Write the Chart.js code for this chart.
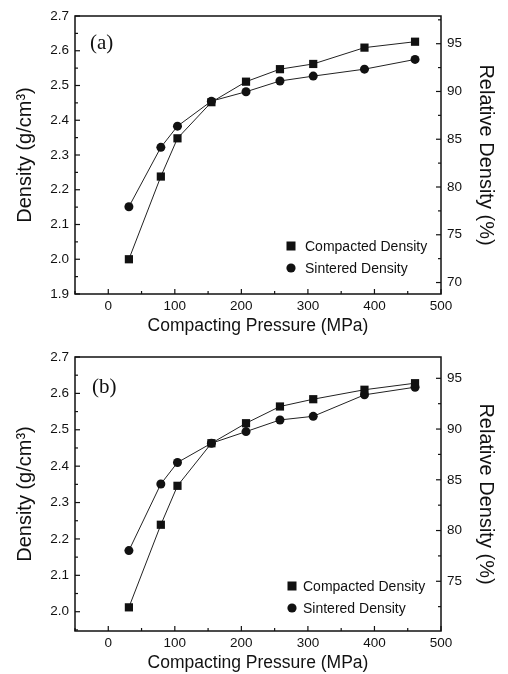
<!DOCTYPE html>
<html>
<head>
<meta charset="utf-8">
<script src="https://cdn.jsdelivr.net/npm/chart.js@4.4.1/dist/chart.umd.min.js"></script>
<style>
  html, body { margin: 0; padding: 0; background: #fff; }
  .panel { position: absolute; left: 0; width: 508px; height: 337px; }
</style>
</head>
<body>
<div class="panel" style="top:0"><canvas id="chartA" width="508" height="337"></canvas></div>
<div class="panel" style="top:337px"><canvas id="chartB" width="508" height="337"></canvas></div>
<script>
// 数据：压制压力 (MPa) 与密度 (g/cm3)
const pressure = [31, 79, 104, 155, 207, 258, 308, 385, 461];
const compactedA = [2.000, 2.238, 2.348, 2.452, 2.511, 2.547, 2.562, 2.609, 2.626];
const sinteredA = [2.151, 2.322, 2.383, 2.455, 2.482, 2.513, 2.527, 2.547, 2.575];
const compactedB = [2.012, 2.239, 2.346, 2.463, 2.518, 2.564, 2.584, 2.610, 2.628];
const sinteredB = [2.168, 2.351, 2.410, 2.463, 2.495, 2.527, 2.537, 2.596, 2.617];

// 坐标轴范围
const pressureRange = [-50, 500];
const densityRangeA = [1.9, 2.7];
const relativeRangeA = [68.8, 97.9];
const densityRangeB = [1.947, 2.7];
const relativeRangeB = [70.1, 97.1];

const seriesLabels = ['Compacted Density', 'Sintered Density'];

const INK = '#111';
const SANS = '"Liberation Sans", Arial, sans-serif';

function toPoints(ys) {
    return pressure.map((x, i) => ({ x: x, y: ys[i] }));
}

// 画框、向内的刻度、面板标签和图例
const framePlugin = {
    id: 'frame',
    afterDraw(chart, args, opts) {
        const { ctx, chartArea: a, scales } = chart;
        ctx.save();
        ctx.strokeStyle = INK;
        ctx.lineWidth = 1.5;
        ctx.strokeRect(a.left, a.top, a.right - a.left, a.bottom - a.top);

        ctx.lineWidth = 1.2;
        function ticks(scale, step, side) {
            const half = step / 2;
            const start = Math.ceil(scale.min / half - 1e-9) * half;
            for (let v = start; v <= scale.max + 1e-9; v += half) {
                const major = Math.abs(Math.round(v / step) * step - v) < 1e-6;
                const len = major ? 5 : 3;
                const p = scale.getPixelForValue(v);
                ctx.beginPath();
                if (side === 'bottom') { ctx.moveTo(p, a.bottom); ctx.lineTo(p, a.bottom - len); }
                if (side === 'left') { ctx.moveTo(a.left, p); ctx.lineTo(a.left + len, p); }
                if (side === 'right') { ctx.moveTo(a.right, p); ctx.lineTo(a.right - len, p); }
                ctx.stroke();
            }
        }
        ticks(scales.x, 100, 'bottom');
        ticks(scales.y, 0.1, 'left');
        ticks(scales.y2, 5, 'right');

        // 面板标签 (a)/(b)
        ctx.fillStyle = INK;
        ctx.font = '21px "Liberation Serif", "Times New Roman", serif';
        ctx.textAlign = 'left';
        ctx.textBaseline = 'middle';
        ctx.fillText(opts.tag, opts.tagX, opts.tagY);

        // 图例
        ctx.font = '14px ' + SANS;
        chart.data.datasets.forEach((ds, i) => {
            const y = opts.legendY + i * opts.legendGap;
            ctx.fillStyle = INK;
            if (ds.pointStyle === 'rect') {
                ctx.fillRect(opts.legendX - 4.5, y - 4.5, 9, 9);
            } else {
                ctx.beginPath();
                ctx.arc(opts.legendX, y, 4.6, 0, Math.PI * 2);
                ctx.fill();
            }
            ctx.fillText(ds.label, opts.legendX + opts.textGap, y + 1);
        });
        ctx.restore();
    }
};

function makeChart(id, compacted, sintered, densityRange, relRange, top, frameOpts) {
    const ctx = document.getElementById(id).getContext('2d');
    return new Chart(ctx, {
        type: 'scatter',
        data: {
            datasets: [{
                label: seriesLabels[0],
                data: toPoints(compacted),
                showLine: true,
                borderColor: '#222',
                backgroundColor: INK,
                borderWidth: 1,
                pointStyle: 'rect',
                pointRadius: 5.8,
                pointBorderWidth: 0,
                yAxisID: 'y'
            }, {
                label: seriesLabels[1],
                data: toPoints(sintered),
                showLine: true,
                borderColor: '#222',
                backgroundColor: INK,
                borderWidth: 1,
                pointStyle: 'circle',
                pointRadius: 4.5,
                pointBorderWidth: 0,
                yAxisID: 'y'
            }]
        },
        options: {
            responsive: false,
            animation: false,
            layout: { padding: { top: top, left: 0, right: 0, bottom: 0 } },
            plugins: {
                legend: { display: false },
                tooltip: { enabled: false },
                frame: frameOpts
            },
            scales: {
                x: {
                    type: 'linear',
                    min: pressureRange[0],
                    max: pressureRange[1],
                    grid: { display: false, drawTicks: false },
                    border: { display: false },
                    ticks: {
                        stepSize: 100,
                        includeBounds: false,
                        padding: 4,
                        color: INK,
                        font: { family: SANS, size: 13.5 }
                    },
                    title: {
                        display: true,
                        text: 'Compacting Pressure (MPa)',
                        color: INK,
                        font: { family: SANS, size: 17.5 },
                        padding: { top: 0, bottom: 0 }
                    },
                    afterFit: s => { s.height = 43; }
                },
                y: {
                    type: 'linear',
                    position: 'left',
                    min: densityRange[0],
                    max: densityRange[1],
                    grid: { display: false, drawTicks: false },
                    border: { display: false },
                    ticks: {
                        stepSize: 0.1,
                        includeBounds: false,
                        padding: 6,
                        color: INK,
                        font: { family: SANS, size: 13.5 },
                        callback: v => v.toFixed(1)
                    },
                    title: {
                        display: true,
                        text: 'Density (g/cm³)',
                        color: INK,
                        font: { family: SANS, size: 20 },
                        padding: { top: 13, bottom: 0 }
                    },
                    afterFit: s => { s.width = 75; }
                },
                y2: {
                    type: 'linear',
                    position: 'right',
                    min: relRange[0],
                    max: relRange[1],
                    grid: { display: false, drawTicks: false },
                    border: { display: false },
                    ticks: {
                        stepSize: 5,
                        includeBounds: false,
                        padding: 6,
                        color: INK,
                        font: { family: SANS, size: 13.5 }
                    },
                    title: {
                        display: true,
                        text: 'Relative Density (%)',
                        color: INK,
                        font: { family: SANS, size: 20 },
                        padding: { top: 10, bottom: 0 }
                    },
                    afterFit: s => { s.width = 67; }
                }
            }
        },
        plugins: [framePlugin]
    });
}

makeChart('chartA', compactedA, sinteredA, densityRangeA, relativeRangeA, 16,
    { tag: '(a)', tagX: 90, tagY: 43, legendX: 291, legendY: 246, legendGap: 22, textGap: 14 });
makeChart('chartB', compactedB, sinteredB, densityRangeB, relativeRangeB, 20,
    { tag: '(b)', tagX: 92, tagY: 50, legendX: 292, legendY: 249, legendGap: 22, textGap: 11 });
</script>
</body>
</html>
